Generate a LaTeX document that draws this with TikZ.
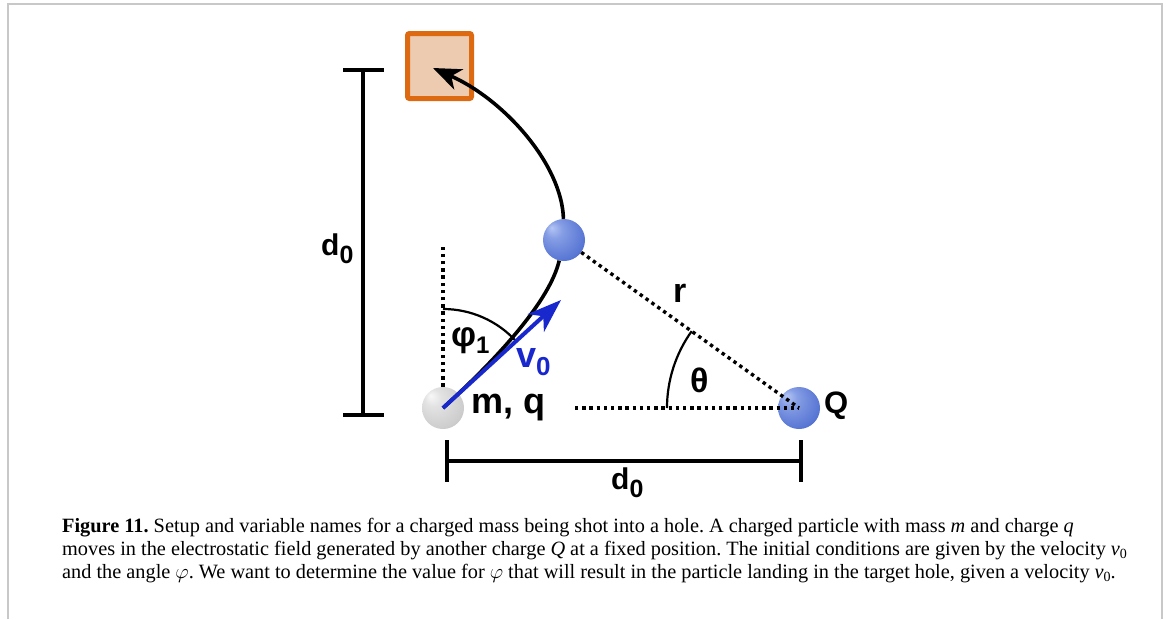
\documentclass[tikz,border=0pt]{standalone}
\usepackage{fontspec}
\setmainfont{Liberation Serif}
\newfontfamily\labfont{Liberation Sans}
\usetikzlibrary{arrows.meta}
\frenchspacing
\definecolor{boxfill}{RGB}{237,203,176}
\definecolor{boxedge}{RGB}{221,106,16}
\definecolor{vblue}{RGB}{24,40,204}
\definecolor{framegray}{RGB}{200,200,200}
\definecolor{bhl}{RGB}{180,198,245}
\definecolor{bmid}{RGB}{88,118,212}
\definecolor{bedge}{RGB}{38,62,168}
\definecolor{ghl}{RGB}{248,248,248}
\definecolor{gmid}{RGB}{205,205,205}
\definecolor{gedge}{RGB}{158,158,158}
\pgfdeclareradialshading{blueball}{\pgfpoint{-15bp}{15bp}}{color(0bp)=(bhl); color(10bp)=(bhl!50!bmid); color(30bp)=(bmid); color(50bp)=(bedge)}
\pgfdeclareradialshading{grayball}{\pgfpoint{-15bp}{15bp}}{color(0bp)=(ghl); color(10bp)=(ghl!50!gmid); color(30bp)=(gmid); color(50bp)=(gedge)}
\begin{document}
\begin{tikzpicture}[x=1pt,y=-1pt,
  lab/.style={anchor=base west, inner sep=0pt},
  labsize/.style={font=\labfont\bfseries\fontsize{#1}{#1}\selectfont},
  traj/.style={line width=3.6pt},
  dotline/.style={line width=3.4pt, dash pattern=on 3.4pt off 3.8pt},
  anglearc/.style={line width=2.2pt},
  bracket/.style={line width=4.5pt},
  ballnode/.style={circle, minimum size=42pt, inner sep=0pt, shade},
  capline/.style={anchor=base west, inner sep=0pt, font=\fontsize{20.3}{23}\selectfont}
  ]
\useasboundingbox (0,0) rectangle (1170,619);
\fill[white] (0,0) rectangle (1170,619);
\draw[framegray, line width=2pt] (7.5,619) -- (7.5,3.5) -- (1162,3.5) -- (1162,619);

% target hole
\node[draw=boxedge, fill=boxfill, line width=5pt, rounded corners=2pt,
      minimum width=64pt, minimum height=65pt, inner sep=0pt] (box) at (439.5,66) {};
\coordinate (tgt) at (433,68);

% balls
\node[ballnode, shading=grayball] (m) at (443,408) {};
\node[ballnode, shading=blueball] (b) at (564,240) {};
\node[ballnode, shading=blueball] (Q) at (799,408) {};

% brackets
\coordinate (lt) at (363,70);
\coordinate (lb) at (363,415);
\draw[bracket] (lt) -- (lb);
\draw[bracket] ([xshift=-20pt]lt) -- ([xshift=21pt]lt);
\draw[bracket] ([xshift=-20pt]lb) -- ([xshift=21pt]lb);
\coordinate (bl) at (447,461);
\coordinate (br) at (801,461);
\draw[bracket] (bl) -- (br);
\draw[bracket] ([yshift=21pt]bl) -- ([yshift=-21pt]bl);
\draw[bracket] ([yshift=21pt]br) -- ([yshift=-21pt]br);

% dotted guide lines
\coordinate (vtop) at (443,247);
\coordinate (hstart) at (575,408);
\draw[dotline] (m.north) -- (vtop);
\draw[dotline] (hstart) -- (Q.center);
\draw[dotline] (b) -- (Q.center);

% angle arcs
\draw[anglearc] (m.center) ++(90:99pt) arc[start angle=90, end angle=42.5, radius=99pt];
\draw[anglearc] (Q.center) ++(180:132pt) arc[start angle=180, end angle=144.4, radius=132pt];

% trajectory
\draw[traj] (m.center) .. controls (500,356) and (550,300) .. (b);
\draw[traj, -{Stealth[length=28pt, width=22pt, inset=8pt]}] (b) .. controls (562,165) and (505,100) .. (tgt);

% initial velocity
\coordinate (v0tip) at (561,300);
\draw[vblue, line width=4pt, -{Stealth[length=34pt, width=24pt, inset=10pt]}] (m.center) -- (v0tip);

% labels
\node[lab, labsize=30] (d0l) at (321,255) {d\raisebox{-8pt}{\fontsize{25}{25}\selectfont 0}};
\node[lab, labsize=30] (d0b) at (611,489) {d\raisebox{-8pt}{\fontsize{25}{25}\selectfont 0}};
\node[lab, labsize=36] (mq) at (471,413) {m, q};
\node[lab, labsize=31] (Ql) at (824,413) {Q};
\node[lab, labsize=34] (rl) at (673,302) {r};
\node[lab, labsize=34] (thl) at (690,392) {θ};
\node[lab, labsize=35] (phil) at (451,346) {φ\raisebox{-7pt}{\fontsize{24}{24}\selectfont 1}};
\node[lab, labsize=36, text=vblue] (v0l) at (516,367) {v\raisebox{-8pt}{\fontsize{26}{26}\selectfont 0}};

% caption
\node[capline] (cap1) at (62,532) {\textbf{Figure 11.} Setup and variable names for a charged mass being shot into a hole. A charged particle with mass \textit{m} and charge \textit{q}};
\node[capline] (cap2) at (62,555) {moves in the electrostatic field generated by another charge \textit{Q} at a fixed position. The initial conditions are given by the velocity \textit{v}\raisebox{-3pt}{\fontsize{14}{14}\selectfont 0}};
\node[capline] (cap3) at (62,578) {and the angle $\varphi$. We want to determine the value for $\varphi$ that will result in the particle landing in the target hole, given a velocity \textit{v}\raisebox{-3pt}{\fontsize{14}{14}\selectfont 0}.};
\end{tikzpicture}
\end{document}
